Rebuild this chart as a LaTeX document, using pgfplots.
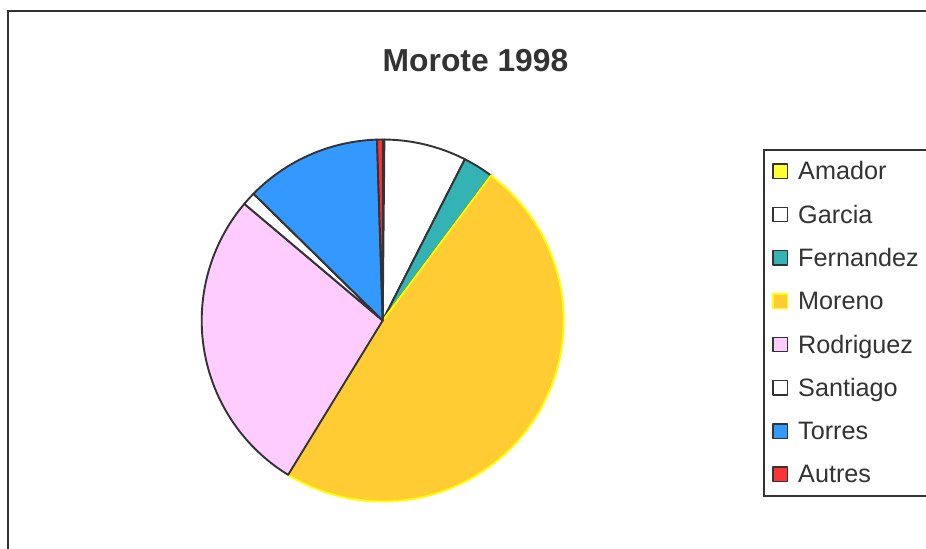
\documentclass[border=0pt]{standalone}
\usepackage{pgfplots}
\pgfplotsset{compat=1.18}
\usepackage{fontspec}
\setmainfont{Liberation Sans}
\definecolor{edge}{HTML}{333333}
\definecolor{camador}{HTML}{FFFF33}
\definecolor{cfern}{HTML}{33B3B3}
\definecolor{cmoreno}{HTML}{FFCC33}
\definecolor{cmorenoedge}{HTML}{FFFF00}
\definecolor{crodri}{HTML}{FFCCFF}
\definecolor{ctorres}{HTML}{3399FF}
\definecolor{cautres}{HTML}{FF3333}
% slice: {cumulative start %}{cumulative end %}{fill}{draw}
% shares (%): Amador 0.15, Garcia 7.35, Fernandez 2.7, Moreno 48.55,
% Rodriguez 27.4, Santiago 1.2, Torres 12.15, Autres 0.5
\newcommand{\slice}[4]{%
  \addplot[fill=#3, draw=#4, line width=0.95pt, line join=round,
    domain=#1:#2, samples=120, variable=\t]
    ({181*sin(3.6*\t)},{181*cos(3.6*\t)}) -- (axis cs:0,0) -- cycle;}
\begin{document}
\begin{tikzpicture}[x=0.5pt,y=-0.5pt]
\useasboundingbox (0,0) rectangle (926,548);
\draw[line width=1pt, edge] (7.5,11) rectangle (960,580);
\coordinate (C) at (382.7,320.5);
\begin{axis}[
  at={(C)}, anchor=origin,
  x=0.5pt, y=0.5pt,
  xmin=-181, xmax=181, ymin=-181, ymax=181,
  hide axis, clip=false,
  title={Morote 1998},
  title style={at={(axis cs:92.8,237.5)}, anchor=base,
    font=\fontsize{15.9}{18}\selectfont\bfseries, text=edge},
  legend cell align=left,
  legend image code/.code={\draw[#1, line width=0.7pt] (0pt,-3.6pt) rectangle (7.2pt,3.6pt);},
  legend style={at={(axis cs:380.3,171.5)}, anchor=north west,
    draw=edge, line width=0.8pt, fill=white,
    inner xsep=4.3pt, inner ysep=4.8pt,
    row sep=9.85pt, column sep=5pt,
    font=\fontsize{12.6}{15}\selectfont, text=edge,
    nodes={inner sep=0pt, text height=10.2pt, text depth=1.6pt}},
]
\slice{0}{0.15}{camador}{edge}
\addlegendentry{Amador}
\slice{0.15}{7.5}{white}{edge}
\addlegendentry{Garcia}
\slice{7.5}{10.2}{cfern}{edge}
\addlegendentry{Fernandez}
\slice{10.2}{58.75}{cmoreno}{cmorenoedge}
\addlegendentry{Moreno}
\slice{58.75}{86.15}{crodri}{edge}
\addlegendentry{Rodriguez}
\slice{86.15}{87.35}{white}{edge}
\addlegendentry{Santiago}
\slice{87.35}{99.5}{ctorres}{edge}
\addlegendentry{Torres}
\slice{99.5}{100}{cautres}{edge}
\addlegendentry{Autres}
\end{axis}
\end{tikzpicture}
\end{document}
